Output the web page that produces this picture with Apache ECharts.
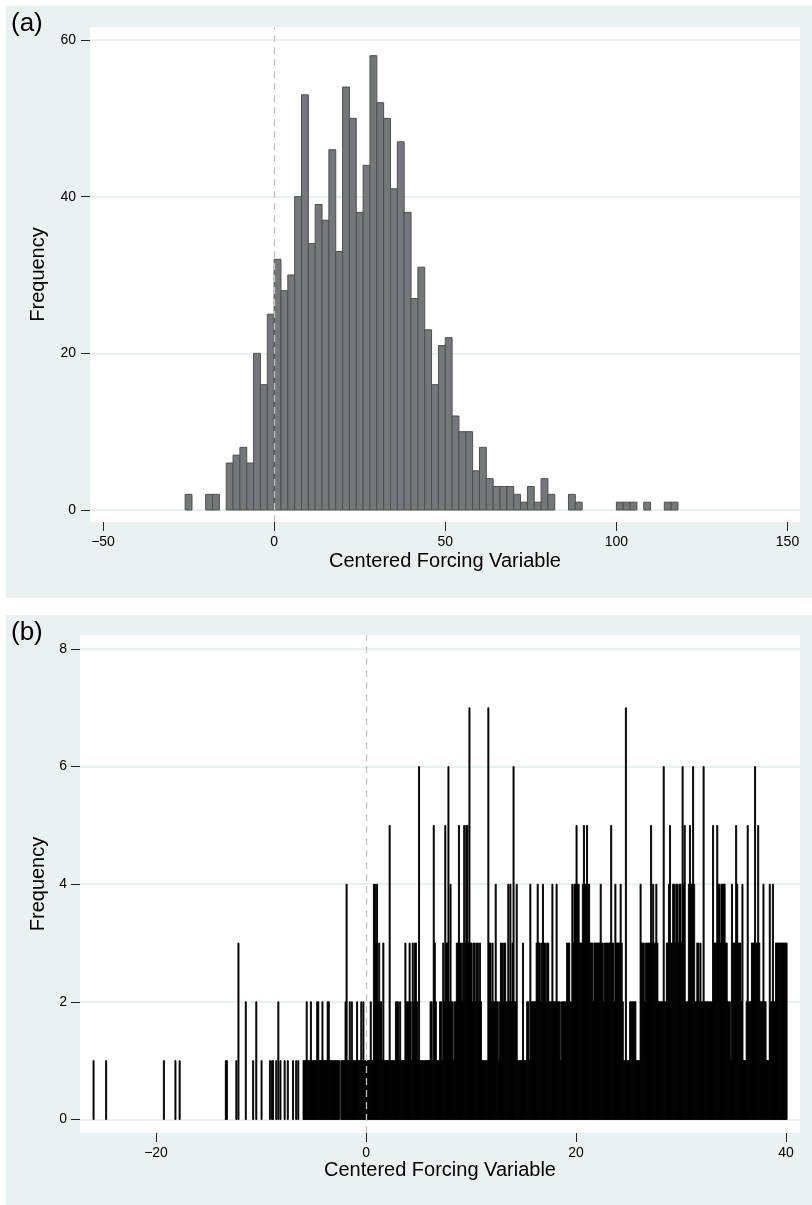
<!DOCTYPE html>
<html><head><meta charset="utf-8">
<script src="https://cdn.jsdelivr.net/npm/echarts@6/dist/echarts.min.js"></script>
<style>html,body{margin:0;padding:0;background:#fff}#c{width:812px;height:1205px}</style>
</head><body><div id="c"></div><script>
// ---------- Panel (a): histogram, bin width 2, first bin starts at -26 ----------
const aBinStart = -26;
const aBinWidth = 2;
const aCounts = [2,0,0,2,2,0,6,7,8,6, 20,16,25,32,28,30,40,53,34,39, 37,46,33,54,50,38,44,58,52,50,
                 41,47,38,27,31,23,16,21,22,12, 10,10,5,8,4,3,3,3,2,1, 3,1,4,2,0,0,2,1,0,0,
                 0,0,0,1,1,1,0,1,0,0, 1,1];
const aTicksX = [-50, 0, 50, 100, 150];
const aTicksY = [0, 20, 40, 60];

// ---------- Panel (b): fine histogram, bin width 0.1 ----------
const bBinWidth = 0.1;
// sparse left tail (bin start, count)
const bTailX = [-26.0,-24.8,-19.3,-18.2,-17.8,-13.4,-13.3,-12.4,-12.2,-11.5,-10.8,-10.5,-10.0,-9.2,-9.0,-8.9,-8.6,-8.4,-8.2,-7.8,-7.5];
const bTailN = [1,1,1,1,1,1,1,1,3,2,1,2,1,1,1,1,1,2,1,1,1];
// dense part: consecutive 0.1 bins starting at -7.0
const bDenseStart = -7.0;
const bNeg7to0 = [1,0,0,1,0,1,0,0,0,0, 1,1,1,2,1,1,1,2,1,1, 1,1,1,2,2,1,1,1,2,1, 1,1,1,2,2,1,1,1,1,1,
                  1,1,1,1,1,0,1,1,1,1, 2,4,1,1,2,1,2,1,1,1, 1,2,1,1,1,2,1,2,1,1];
const b0to10 = [1,1,1,1,2,1,1,4,4,3, 4,2,3,2,2,1,3,1,1,1, 1,1,5,1,1,1,1,1,2,2, 2,1,2,1,1,1,1,3,2,2,
                2,3,2,1,3,2,3,3,2,1, 6,1,1,1,1,1,1,1,1,1, 1,2,2,1,5,3,2,1,1,1, 2,2,1,3,2,5,3,3,6,2,
                4,2,2,1,2,2,3,3,5,3, 3,2,3,5,3,5,5,3,7,3];
const b10to20 = [3,2,3,3,2,3,3,2,3,2, 1,1,1,1,1,1,7,3,3,2, 3,2,2,4,2,2,1,2,3,3, 2,3,3,2,2,4,2,4,2,3,
                 6,2,2,4,1,1,1,1,1,3, 1,1,1,2,2,1,4,2,2,2, 2,2,3,4,3,3,2,3,4,3, 3,2,3,3,2,2,2,4,2,2,
                 2,4,2,2,2,1,2,2,2,2, 2,3,3,3,2,2,4,3,4,4];
const b20to30 = [5,4,4,3,3,3,4,5,4,4, 5,4,4,3,3,3,2,3,3,3, 3,3,3,4,3,3,2,3,3,3, 3,3,3,5,3,3,2,4,3,3,
                 3,3,4,3,2,1,1,7,1,1, 1,2,2,2,2,2,2,1,1,1, 1,4,3,3,3,2,3,3,3,3, 3,5,3,4,3,3,4,3,2,2,
                 2,2,2,6,2,2,3,3,4,5, 3,3,4,4,3,4,4,3,4,4];
const b30to40 = [3,6,4,5,2,2,2,4,5,4, 4,6,4,2,2,3,3,2,3,2, 2,6,2,2,2,2,2,2,2,2, 5,3,3,3,5,4,4,3,4,4,
                 4,4,3,3,2,2,2,1,4,3, 3,3,5,4,3,3,3,2,4,1, 1,1,2,5,2,2,2,3,3,3, 6,3,3,5,3,2,2,2,4,2,
                 2,1,1,1,4,2,2,4,2,2, 3,3,3,3,3,3,3,3,3,3];
const b40up = [3];
const bTicksX = [-20, 0, 20, 40];
const bTicksY = [0, 2, 4, 6, 8];

// ---------- build series data ----------
const aData = aCounts.map((n, i) => [aBinStart + i * aBinWidth, n]).filter(d => d[1] > 0);
const bDense = [].concat(bNeg7to0, b0to10, b10to20, b20to30, b30to40, b40up);
const bData = bTailX.map((x, i) => [x, bTailN[i]])
  .concat(bDense.map((n, i) => [Math.round((bDenseStart + i * bBinWidth) * 10) / 10, n]))
  .filter(d => d[1] > 0);

const FONT = '"Liberation Sans", Arial, Helvetica, sans-serif';
const BG = '#eaf1f3';
const GRIDC = '#e3ebee';
const fmt = v => (v < 0 ? '\u2212' + Math.abs(v) : String(v));

function histItem(width, fill, stroke, lw) {
  return function (params, api) {
    const x0 = api.value(0), n = api.value(1);
    const tl = api.coord([x0, n]);
    const br = api.coord([x0 + width, 0]);
    return { type: 'rect',
      shape: { x: tl[0], y: tl[1], width: br[0] - tl[0], height: br[1] - tl[1] },
      style: { fill: fill, stroke: stroke, lineWidth: lw } };
  };
}

function xAxisCfg(gi, min, max, ticks, gap) {
  return { type: 'value', gridIndex: gi, min: min, max: max, position: 'bottom',
    axisLine: { show: false, onZero: false }, splitLine: { show: false },
    axisTick: { show: true, length: 9, customValues: ticks, lineStyle: { color: '#222', width: 1 } },
    axisLabel: { customValues: ticks, formatter: fmt, fontSize: 14, color: '#000', margin: 13, fontFamily: FONT },
    name: 'Centered Forcing Variable', nameLocation: 'middle', nameGap: gap,
    nameTextStyle: { fontSize: 20, color: '#000', fontFamily: FONT } };
}
function yAxisCfg(gi, min, max, ticks, gap, margin) {
  return { type: 'value', gridIndex: gi, min: min, max: max, position: 'left',
    axisLine: { show: false, onZero: false }, splitLine: { show: false },
    axisTick: { show: true, length: 9, customValues: ticks, lineStyle: { color: '#222', width: 1 } },
    axisLabel: { customValues: ticks, formatter: fmt, fontSize: 14, color: '#000', margin: margin, fontFamily: FONT },
    name: 'Frequency', nameLocation: 'middle', nameGap: gap,
    nameTextStyle: { fontSize: 20, color: '#000', fontFamily: FONT } };
}
function gridLines(xi, yi, ticks) {
  return { type: 'line', xAxisIndex: xi, yAxisIndex: yi, data: [], silent: true, z: 1,
    markLine: { silent: true, symbol: 'none', z: 1, animation: false, label: { show: false },
      lineStyle: { color: GRIDC, type: 'solid', width: 1.5 },
      data: ticks.map(v => ({ yAxis: v })) } };
}
function zeroLine() {
  return { silent: true, symbol: 'none', z: 6, animation: false, label: { show: false },
    lineStyle: { color: '#c4c4c4', type: [7, 5], width: 1.3 },
    data: [{ xAxis: 0 }] };
}

const chart = echarts.init(document.getElementById('c'), null, { renderer: 'canvas' });
chart.setOption({
  animation: false,
  backgroundColor: '#ffffff',
  graphic: [
    { type: 'rect', z: -10, shape: { x: 6, y: 6, width: 806, height: 592 }, style: { fill: BG } },
    { type: 'rect', z: -10, shape: { x: 6, y: 615, width: 806, height: 590 }, style: { fill: BG } }
  ],
  title: [
    { text: '(a)', left: 11, top: 11, padding: 0, textStyle: { fontSize: 26, fontWeight: 'normal', color: '#000', fontFamily: FONT } },
    { text: '(b)', left: 11, top: 620, padding: 0, textStyle: { fontSize: 26, fontWeight: 'normal', color: '#000', fontFamily: FONT } }
  ],
  grid: [
    { left: 90, right: 12, top: 27, bottom: 1205 - 522, show: true, backgroundColor: '#fff', borderWidth: 0 },
    { left: 80, right: 12, top: 635, bottom: 1205 - 1133, show: true, backgroundColor: '#fff', borderWidth: 0 }
  ],
  xAxis: [
    xAxisCfg(0, -53.8, 153.65, aTicksX, 29),
    xAxisCfg(1, -27.24, 41.33, bTicksX, 27)
  ],
  yAxis: [
    yAxisCfg(0, -1.53, 61.66, aTicksY, 42, 14),
    yAxisCfg(1, -0.23, 8.238, bTicksY, 32, 13)
  ],
  series: [
    gridLines(0, 0, aTicksY),
    gridLines(1, 1, bTicksY),
    { type: 'custom', xAxisIndex: 0, yAxisIndex: 0, z: 3, silent: true,
      renderItem: histItem(aBinWidth, '#76777b', '#4e4f53', 1),
      encode: { x: 0, y: 1 }, data: aData, markLine: zeroLine() },
    { type: 'custom', xAxisIndex: 1, yAxisIndex: 1, z: 3, silent: true,
      renderItem: histItem(bBinWidth, '#000', '#000', 0.9),
      encode: { x: 0, y: 1 }, data: bData, markLine: zeroLine() }
  ]
});
</script></body></html>
